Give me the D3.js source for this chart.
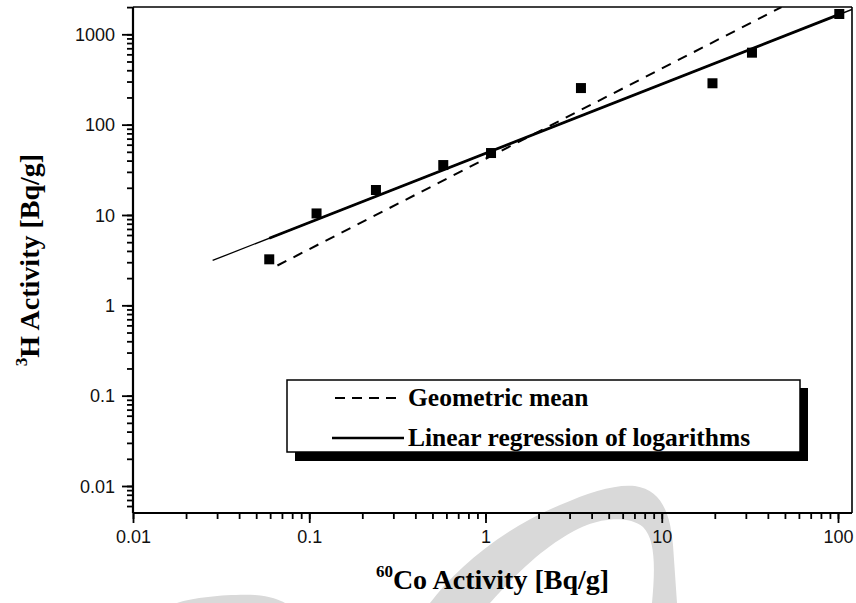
<!DOCTYPE html>
<html>
<head>
<meta charset="utf-8">
<script src="https://cdn.jsdelivr.net/npm/d3@7"></script>
<style>
  html, body { margin: 0; padding: 0; background: #fff; }
  svg { display: block; }
</style>
</head>
<body>
<svg id="chart" width="856" height="603"></svg>
<script>
// ---------- data ----------
const co60Activity = [0.0593, 0.110, 0.239, 0.576, 1.075, 3.48, 19.4, 32.5, 101.7];
const h3Activity   = [3.23, 10.4, 18.9, 35.7, 48.5, 254, 287, 626, 1678];

// fitted lines (end points)
const geoMeanX = [0.066, 47.8];
const geoMeanY = [2.76, 2000];
const regFullX = [0.0283, 120];
const regFullY = [3.14, 1884];
const regDataX = [0.0593, 101.7];
const regDataY = [5.53, 1661];

const xTickValues = [0.01, 0.1, 1, 10, 100];
const xTickLabels = ["0.01", "0.1", "1", "10", "100"];
const yTickValues = [0.01, 0.1, 1, 10, 100, 1000];
const yTickLabels = ["0.01", "0.1", "1", "10", "100", "1000"];

const legendLabels = ["Geometric mean", "Linear regression of logarithms"];

// ---------- layout ----------
const svg = d3.select("#chart");
const L = 133, R = 852, T = 7, B = 513;

const x = d3.scaleLog().domain([0.01 * Math.pow(10, 0), 120]).range([L, R]);
// 0.01 at 133, 100 at 838
x.domain([0.01, Math.pow(10, 2 + (R - 838) / ((838 - L) / 4))]);
const y = d3.scaleLog().domain([0.005, 2000]).range([B, T]);
{
  const dec = (486 - 34.3) / 5;
  y.domain([Math.pow(10, -2 - (B - 486) / dec), Math.pow(10, 3 + (34.3 - T) / dec)]);
}

svg.append("rect").attr("width", 856).attr("height", 603).attr("fill", "#fff");

// ---------- watermark (decorative grey arcs) ----------
const wm = svg.append("g").attr("fill", "#d9d9d9").attr("stroke", "none");
wm.append("path").attr("d",
  "M430,603 C455,570 500,530 560,505 C590,492 615,484 635,486 C660,490 670,510 673,545 L677,603 " +
  "L652,603 C655,570 656,540 643,527 C630,516 605,518 587,525 C560,536 530,558 490,603 Z");
wm.append("path").attr("d",
  "M177,603 C195,597 230,594 255,595 C270,596 280,600 285,603 Z");

// ---------- frame ----------
svg.append("line").attr("x1", L).attr("x2", R).attr("y1", T).attr("y2", T)
  .attr("stroke", "#000").attr("stroke-width", 1.6);
svg.append("line").attr("x1", R).attr("x2", R).attr("y1", T).attr("y2", B)
  .attr("stroke", "#000").attr("stroke-width", 1.6);

// ---------- minor tick helpers ----------
function minorTicks(scale) {
  const [a, b] = scale.domain();
  const out = [];
  for (let e = Math.floor(Math.log10(a)); e <= Math.ceil(Math.log10(b)); e++) {
    for (let m = 1; m <= 9; m++) {
      const v = m * Math.pow(10, e);
      if (v >= a * 0.9999 && v <= b * 1.0001) out.push(v);
    }
  }
  return out;
}

// ---------- x axis ----------
const gx = svg.append("g").attr("transform", `translate(0,${B})`);
gx.call(d3.axisBottom(x).tickValues(minorTicks(x)).tickSize(6).tickFormat(""));
gx.call(g => g.select(".domain").remove());
const gx2 = svg.append("g").attr("transform", `translate(0,${B})`);
gx2.call(d3.axisBottom(x).tickValues(xTickValues).tickSize(10).tickSizeOuter(0)
  .tickFormat((d, i) => xTickLabels[i]));
gx2.select(".domain").attr("d", `M${L},0H${R}`);
svg.selectAll("g").selectAll(".tick line").attr("stroke", "#000").attr("stroke-width", 1.8);
gx2.select(".domain").attr("stroke", "#000").attr("stroke-width", 2.2);
gx2.selectAll(".tick text")
  .attr("font-family", "'Liberation Sans', Arial, sans-serif")
  .attr("font-size", 18).attr("fill", "#111").attr("y", 17).attr("dy", "0.71em");

// ---------- y axis ----------
const gy = svg.append("g").attr("transform", `translate(${L},0)`);
gy.call(d3.axisLeft(y).tickValues(minorTicks(y)).tickSize(6).tickFormat(""));
gy.call(g => g.select(".domain").remove());
const gy2 = svg.append("g").attr("transform", `translate(${L},0)`);
gy2.call(d3.axisLeft(y).tickValues(yTickValues).tickSize(11).tickSizeOuter(0)
  .tickFormat((d, i) => yTickLabels[i]));
gy2.select(".domain").attr("d", `M0,${T}V${B}`).attr("stroke", "#000").attr("stroke-width", 2.2);
svg.selectAll(".tick line").attr("stroke", "#000").attr("stroke-width", 1.8);
gy2.selectAll(".tick text")
  .attr("font-family", "'Liberation Sans', Arial, sans-serif")
  .attr("font-size", 18).attr("fill", "#111").attr("x", -18).attr("dy", "0.35em");

// ---------- lines ----------
const clip = svg.append("clipPath").attr("id", "plotclip")
  .append("rect").attr("x", L).attr("y", T).attr("width", R - L).attr("height", B - T);
const plot = svg.append("g").attr("clip-path", "url(#plotclip)");
const line = d3.line().x(d => x(d[0])).y(d => y(d[1]));

plot.append("path").datum(d3.zip(regFullX, regFullY)).attr("d", line)
  .attr("fill", "none").attr("stroke", "#000").attr("stroke-width", 1.3);
plot.append("path").datum(d3.zip(regDataX, regDataY)).attr("d", line)
  .attr("fill", "none").attr("stroke", "#000").attr("stroke-width", 2.8);
plot.append("path").datum(d3.zip(geoMeanX, geoMeanY)).attr("d", line)
  .attr("fill", "none").attr("stroke", "#000").attr("stroke-width", 2)
  .attr("stroke-dasharray", "10,8");

// ---------- points ----------
const sz = 10;
svg.append("g").selectAll("rect").data(d3.zip(co60Activity, h3Activity)).join("rect")
  .attr("x", d => x(d[0]) - sz / 2).attr("y", d => y(d[1]) - sz / 2)
  .attr("width", sz).attr("height", sz).attr("fill", "#000");

// ---------- legend ----------
const lg = svg.append("g");
lg.append("rect").attr("x", 295).attr("y", 388).attr("width", 513).attr("height", 73).attr("fill", "#000");
lg.append("rect").attr("x", 287).attr("y", 380).attr("width", 513).attr("height", 72)
  .attr("fill", "#fff").attr("stroke", "#000").attr("stroke-width", 1.5);
lg.append("line").attr("x1", 335).attr("x2", 397).attr("y1", 398).attr("y2", 398)
  .attr("stroke", "#000").attr("stroke-width", 2).attr("stroke-dasharray", "10,7");
lg.append("line").attr("x1", 332).attr("x2", 404).attr("y1", 438).attr("y2", 438)
  .attr("stroke", "#000").attr("stroke-width", 2.5);
lg.selectAll("text").data(legendLabels).join("text")
  .attr("x", 408).attr("y", (d, i) => i === 0 ? 406 : 446)
  .attr("font-family", "'Liberation Serif', 'Times New Roman', serif")
  .attr("font-weight", "bold").attr("font-size", 25.5).attr("fill", "#000")
  .text(d => d);

// ---------- axis titles ----------
const xt = svg.append("text").attr("x", (L + R) / 2).attr("y", 589)
  .attr("text-anchor", "middle")
  .attr("font-family", "'Liberation Serif', 'Times New Roman', serif")
  .attr("font-weight", "bold").attr("font-size", 28).attr("fill", "#000");
xt.append("tspan").attr("font-size", 17).attr("dy", -12).text("60");
xt.append("tspan").attr("dy", 12).text("Co Activity [Bq/g]");

const yt = svg.append("text")
  .attr("transform", `translate(39,${(T + B) / 2}) rotate(-90)`)
  .attr("text-anchor", "middle")
  .attr("font-family", "'Liberation Serif', 'Times New Roman', serif")
  .attr("font-weight", "bold").attr("font-size", 28).attr("fill", "#000");
yt.append("tspan").attr("font-size", 17).attr("dy", -12).text("3");
yt.append("tspan").attr("dy", 12).text("H Activity [Bq/g]");
</script>
</body>
</html>
